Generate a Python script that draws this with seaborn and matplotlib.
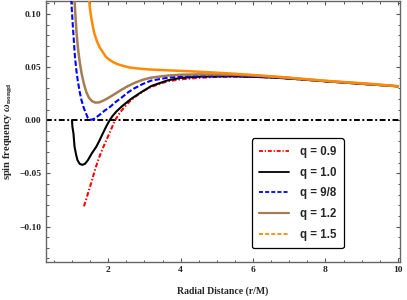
import matplotlib
matplotlib.use("Agg")
import matplotlib.pyplot as plt
from matplotlib.lines import Line2D
from matplotlib.ticker import MultipleLocator
import seaborn as sns
import pandas as pd

# values
r_09 = [1.33, 1.43, 1.53, 1.64, 1.76, 1.88, 1.99, 2.10, 2.19, 2.32, 2.45, 2.63, 2.82,
        3.00, 3.18, 3.40, 3.64, 4.00, 4.56, 5.00, 5.48, 6.00, 6.50, 7.00, 8.00, 9.00, 10.0]
w_09 = [-0.081, -0.070, -0.059, -0.046, -0.034, -0.024, -0.0156, -0.007, 0.0, 0.007, 0.0125,
        0.019, 0.024, 0.028, 0.0313, 0.034, 0.0366, 0.0385, 0.040, 0.0408, 0.041, 0.0408,
        0.0402, 0.0392, 0.0366, 0.0342, 0.0319]

r_10 = [1.00, 1.01, 1.04, 1.07, 1.11, 1.15, 1.21, 1.28, 1.36, 1.44, 1.55, 1.67, 1.76, 1.85,
        1.95, 2.04, 2.12, 2.22, 2.36, 2.50, 2.63, 2.85, 3.18, 3.64, 4.00, 4.56, 5.48, 6.00,
        6.50, 7.00, 8.00, 9.00, 10.0]
w_10 = [0.0, -0.006, -0.0125, -0.025, -0.032, -0.0375, -0.041, -0.042, -0.041, -0.0375,
        -0.031, -0.025, -0.019, -0.0125, -0.0055, 0.0, 0.004, 0.008, 0.0125, 0.0165, 0.020,
        0.025, 0.032, 0.0375, 0.0398, 0.041, 0.0413, 0.0408, 0.0402, 0.0392, 0.0366, 0.0342,
        0.0319]

r_98 = [0.97, 1.02, 1.05, 1.08, 1.12, 1.16, 1.21, 1.26, 1.32, 1.39, 1.44, 1.49, 1.55, 1.62,
        1.76, 1.90, 2.05, 2.20, 2.36, 2.54, 2.72, 2.95, 3.18, 3.64, 4.00, 4.56, 5.48, 6.00,
        6.50, 7.00, 8.00, 9.00, 10.0]
w_98 = [0.118, 0.090, 0.075, 0.060, 0.047, 0.037, 0.027, 0.019, 0.012, 0.006, 0.002, 0.0005,
        0.0005, 0.0015, 0.005, 0.009, 0.0125, 0.017, 0.021, 0.026, 0.030, 0.034, 0.0372,
        0.040, 0.041, 0.0416, 0.0416, 0.041, 0.0403, 0.0393, 0.0366, 0.0342, 0.0319]

r_12 = [1.06, 1.10, 1.13, 1.17, 1.22, 1.27, 1.33, 1.40, 1.47, 1.55, 1.65, 1.75, 1.87, 1.99,
        2.15, 2.36, 2.54, 2.72, 2.95, 3.18, 3.64, 4.00, 4.56, 5.48, 6.00, 6.50, 7.00, 8.00,
        9.00, 10.0]
w_12 = [0.118, 0.095, 0.080, 0.066, 0.053, 0.043, 0.034, 0.026, 0.021, 0.018, 0.0165, 0.0168,
        0.0185, 0.0207, 0.024, 0.0285, 0.032, 0.035, 0.038, 0.040, 0.042, 0.0428, 0.0431,
        0.0428, 0.042, 0.0410, 0.0398, 0.0369, 0.0344, 0.0319]

r_15 = [1.46, 1.50, 1.53, 1.57, 1.62, 1.69, 1.76, 1.85, 1.94, 2.03, 2.13, 2.26, 2.40, 2.60,
        2.80, 3.10, 3.64, 4.00, 4.56, 5.00, 5.48, 6.00, 6.50, 7.00, 7.41, 8.00, 8.33, 9.00,
        9.25, 10.0]
w_15 = [0.116, 0.104, 0.097, 0.089, 0.0813, 0.074, 0.0688, 0.064, 0.0594, 0.057, 0.0547,
        0.0527, 0.0512, 0.0495, 0.0487, 0.0478, 0.0469, 0.0464, 0.0455, 0.0447, 0.0437,
        0.0425, 0.0413, 0.0400, 0.0387, 0.0371, 0.0363, 0.0348, 0.0342, 0.0320]

labels = ["q = 0.9", "q = 1.0", "q = 9/8", "q = 1.2", "q = 1.5"]

sns.set_theme(style="ticks")
plt.rcParams["font.family"] = ["Liberation Serif", "DejaVu Serif"]
plt.rcParams["font.weight"] = "bold"
plt.rcParams["mathtext.fontset"] = "custom"
plt.rcParams["mathtext.rm"] = "Liberation Serif:bold"
plt.rcParams["mathtext.it"] = "Liberation Serif:italic:bold"
plt.rcParams["mathtext.bf"] = "Liberation Serif:bold"

fig = plt.figure(figsize=(4.07, 3.0), dpi=100)
ax = fig.add_axes([0.112, 0.128, 0.871, 0.870])

red_ls = (0, (2.2, 1.0, 0.7, 1.0))
blue_ls = (0, (2.6, 1.1))

series = [
    (r_09, w_09, "#FF0000", red_ls, 1.5),
    (r_10, w_10, "black", "-", 1.5),
    (r_98, w_98, "#0000FF", blue_ls, 1.5),
    (r_12, w_12, "#A67C52", "-", 1.8),
    (r_15, w_15, "#FF8A00", "-", 1.8),
]

# zero line first, curves on top
ax.axhline(0, color="black", lw=1.4, linestyle=(0, (3.0, 1.3, 1.0, 1.3)), zorder=1)

for r, w, col, ls, lw in series:
    df = pd.DataFrame({"r": r, "w": w})
    sns.lineplot(data=df, x="r", y="w", ax=ax, color=col, linestyle=ls, lw=lw,
                 estimator=None, errorbar=None, sort=False, zorder=3)

ax.set_xlim(0.27, 10.06)
ax.set_ylim(-0.133, 0.1125)

ax.xaxis.set_minor_locator(MultipleLocator(0.5))
ax.yaxis.set_minor_locator(MultipleLocator(0.01))
ax.set_xticks([2, 4, 6, 8, 10])
ax.set_xticklabels(["2", "4", "6", "8", "10"])
ax.set_yticks([-0.10, -0.05, 0.0, 0.05, 0.10])
ax.set_yticklabels(["\u22120.10", "\u22120.05", "0.00", "0.05", "0.10"])

ax.tick_params(which="both", direction="in", top=True, right=True, color="#555555",
               labelsize=6.8, pad=3)
ax.tick_params(which="major", length=3.2, width=0.8)
ax.tick_params(which="minor", length=1.8, width=0.7)
for lab in ax.get_xticklabels() + ax.get_yticklabels():
    lab.set_fontweight("bold")

for sp in ax.spines.values():
    sp.set_color("#666666")
    sp.set_linewidth(1.0)

ax.set_xlabel("Radial Distance (r/M)", fontsize=7, fontweight="bold", labelpad=9)
ax.set_ylabel(r"spin frequency $\omega_{\mathbf{nongd}}$", fontsize=7.6, fontweight="bold",
              labelpad=3)

handles = [
    Line2D([], [], color="#FF0000", lw=1.3, linestyle=red_ls),
    Line2D([], [], color="black", lw=1.3),
    Line2D([], [], color="#0000FF", lw=1.3, linestyle=(0, (2.2, 1.2))),
    Line2D([], [], color="#A67C52", lw=1.6),
    Line2D([], [], color="#FF8A00", lw=1.3, linestyle=(0, (2.2, 1.2))),
]
leg = ax.legend(handles, labels, loc="lower left", bbox_to_anchor=(0.582, 0.052),
                prop={"family": "Liberation Sans", "weight": "bold", "size": 8.3},
                frameon=True, fancybox=True, framealpha=1, edgecolor="black",
                handlelength=2.6, handletextpad=0.9, labelspacing=0.75, borderpad=0.65,
                borderaxespad=0)
leg.get_frame().set_linewidth(0.9)

fig.savefig("out.png", dpi=100)
